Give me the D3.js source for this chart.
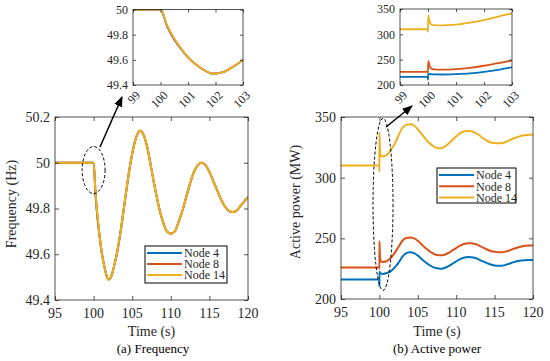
<!DOCTYPE html>
<html>
<head>
<meta charset="utf-8">
<script src="https://cdn.jsdelivr.net/npm/d3@7"></script>
<style>
    body { margin: 0; background: #fff; }
    svg text { font-family: "Liberation Serif", "DejaVu Serif", serif; }
</style>
</head>
<body>
<svg id="canvas" width="550" height="361"></svg>
<script>
/** Series names and colours */
const nodeNames = ['Node 4', 'Node 8', 'Node 14'];
const nodeColors = ['#0072BD', '#D95319', '#EDB120'];

/** Frequency (Hz) */
const freqTime = [95, 99, 100, 100.25, 100.5, 100.75, 101, 101.25, 101.5, 101.9, 102.25, 102.6, 103,
    103.5, 104, 104.5, 105, 105.5, 106, 106.5, 107, 107.5, 108, 108.5, 109, 109.5, 110, 110.5, 111, 111.5,
    112, 112.5, 113, 113.5, 114, 114.5, 115, 115.5, 116, 116.5, 117, 117.5, 118, 118.5, 119, 119.5, 120];
const freqNode4 = [50, 50, 50, 49.86, 49.76, 49.685, 49.62, 49.57, 49.53, 49.49, 49.50, 49.54, 49.60,
    49.70, 49.82, 49.94, 50.04, 50.11, 50.14, 50.12, 50.06, 49.97, 49.88, 49.80, 49.74, 49.70, 49.69, 49.70, 49.74, 49.79,
    49.85, 49.91, 49.96, 49.99, 50.00, 49.99, 49.96, 49.92, 49.88, 49.84, 49.81, 49.79, 49.785, 49.79, 49.81, 49.83, 49.85];
const freqNode8 = [50, 50, 50, 49.865, 49.765, 49.688, 49.62, 49.57, 49.53, 49.49, 49.50, 49.54, 49.60,
    49.70, 49.82, 49.94, 50.04, 50.11, 50.14, 50.12, 50.06, 49.97, 49.88, 49.80, 49.74, 49.70, 49.69, 49.70, 49.74, 49.79,
    49.85, 49.91, 49.96, 49.99, 50.00, 49.99, 49.96, 49.92, 49.88, 49.84, 49.81, 49.79, 49.785, 49.79, 49.81, 49.83, 49.85];
const freqNode14 = [50, 50, 50, 49.87, 49.77, 49.69, 49.62, 49.57, 49.53, 49.49, 49.50, 49.54, 49.60,
    49.70, 49.82, 49.94, 50.04, 50.11, 50.14, 50.12, 50.06, 49.97, 49.88, 49.80, 49.74, 49.70, 49.69, 49.70, 49.74, 49.79,
    49.85, 49.91, 49.96, 49.99, 50.00, 49.99, 49.96, 49.92, 49.88, 49.84, 49.81, 49.79, 49.785, 49.79, 49.81, 49.83, 49.85];

/** Active power (MW) */
const powerTime = [95, 99.99, 100, 100.01, 100.06, 100.12, 100.2, 100.5, 101, 101.5, 102, 102.5, 103,
    103.5, 104, 104.5, 105, 105.5, 106, 106.5, 107, 107.5, 108, 108.5, 109, 109.5, 110, 110.5, 111, 111.5,
    112, 112.5, 113, 113.5, 114, 114.5, 115, 115.5, 116, 116.5, 117, 117.5, 118, 118.5, 119, 119.5, 120];
const powerNode4 = [216, 216, 210.5, 222.5, 221.5, 221.2, 221, 220.7, 221.5, 223, 226, 230, 235,
    237.8, 238.5, 237.8, 235.8, 233, 230.3, 228, 226.3, 225.3, 225, 225.5, 227, 229, 231, 232.8, 234, 234.6,
    234.5, 233.8, 232.5, 231, 229.6, 228.4, 227.7, 227.4, 227.5, 228.2, 229.3, 230.4, 231.3, 231.8, 232, 232.1, 232.2];
const powerNode8 = [226, 226, 225, 247.5, 237, 232.5, 231, 230.5, 231.5, 234, 238, 243, 248,
    250.2, 250.6, 250, 248, 245, 242, 239.5, 237.5, 236.3, 236, 236.5, 238, 240, 242, 244, 245.3, 246,
    246, 245.3, 244, 242.3, 240.8, 239.6, 238.9, 238.6, 238.6, 239.2, 240.2, 241.4, 242.5, 243.3, 243.8, 244, 244];
const powerNode14 = [310, 310, 305, 337, 325, 319.5, 318, 317.5, 319, 323, 328, 335, 341,
    343.5, 344, 343, 340, 336, 332, 328.5, 326, 324.5, 324.3, 325.5, 328, 331, 334, 336.5, 338, 338.5,
    338.2, 337, 335, 332.5, 330.5, 329, 328.5, 328.3, 328.5, 329.5, 331, 332.5, 333.5, 334.5, 335, 335.3, 335.5];

/** Tick values */
const mainTimeTicks = [95, 100, 105, 110, 115, 120];
const zoomTimeTicks = [99, 100, 101, 102, 103];
const freqTicks = [49.4, 49.6, 49.8, 50, 50.2];
const freqZoomTicks = [49.4, 49.6, 49.8, 50];
const powerTicks = [200, 250, 300, 350];

const canvas = d3.select('#canvas');
const axisColor = '#262626';
let clipCount = 0;

/** Arrow head marker */
canvas.append('defs')
    .append('marker')
    .attr('id', 'arrow')
    .attr('viewBox', '0 0 10 10')
    .attr('refX', 9).attr('refY', 5)
    .attr('markerWidth', 7).attr('markerHeight', 7)
    .attr('orient', 'auto')
    .append('path')
    .attr('d', 'M0,1 L10,5 L0,9 z')
    .attr('fill', '#000');

/** Draw one MATLAB-like box axes with lines */
const drawAxes = (cfg) => {
    const x = d3.scaleLinear().domain(cfg.xDomain).range([cfg.left, cfg.right]);
    const y = d3.scaleLinear().domain(cfg.yDomain).range([cfg.bottom, cfg.top]);
    const g = canvas.append('g');
    const fmt = (d) => String(+d.toFixed(1));

    /** Clip area */
    const clipId = 'clip' + (clipCount++);
    canvas.select('defs').append('clipPath').attr('id', clipId)
        .append('rect')
        .attr('x', cfg.left).attr('y', cfg.top)
        .attr('width', cfg.right - cfg.left).attr('height', cfg.bottom - cfg.top);

    /** Lines */
    const line = d3.line()
        .x((d) => x(d[0]))
        .y((d) => y(d[1]))
        .curve(d3.curveMonotoneX);

    g.append('g').attr('clip-path', `url(#${clipId})`)
        .selectAll('path')
        .data(cfg.series)
        .enter()
        .append('path')
        .attr('d', (s) => line(cfg.time.map((t, i) => [t, s[i]])))
        .attr('fill', 'none')
        .attr('stroke', (s, i) => nodeColors[i])
        .attr('stroke-width', cfg.lineWidth);

    /** Inward ticks on all four sides */
    const tl = cfg.tickLen;
    const xAxisBottom = d3.axisBottom(x).tickValues(cfg.xTicks).tickSize(-tl).tickFormat('');
    const xAxisTop = d3.axisTop(x).tickValues(cfg.xTicks).tickSize(-tl).tickFormat('');
    const yAxisLeft = d3.axisLeft(y).tickValues(cfg.yTicks).tickSize(-tl).tickFormat('');
    const yAxisRight = d3.axisRight(y).tickValues(cfg.yTicks).tickSize(-tl).tickFormat('');

    g.append('g').attr('transform', `translate(0,${cfg.bottom})`).call(xAxisBottom);
    g.append('g').attr('transform', `translate(0,${cfg.top})`).call(xAxisTop);
    g.append('g').attr('transform', `translate(${cfg.left},0)`).call(yAxisLeft);
    g.append('g').attr('transform', `translate(${cfg.right},0)`).call(yAxisRight);
    g.selectAll('.domain').remove();
    g.selectAll('.tick line').attr('stroke', axisColor).attr('stroke-width', 0.8);

    /** Box */
    g.append('rect')
        .attr('x', cfg.left).attr('y', cfg.top)
        .attr('width', cfg.right - cfg.left).attr('height', cfg.bottom - cfg.top)
        .attr('fill', 'none')
        .attr('stroke', axisColor)
        .attr('stroke-width', 0.8);

    /** Y tick labels */
    g.selectAll('.ylab')
        .data(cfg.yTicks)
        .enter()
        .append('text')
        .attr('x', cfg.left - 5)
        .attr('y', (d) => y(d))
        .attr('dy', '0.35em')
        .attr('text-anchor', 'end')
        .attr('font-size', cfg.fontSize)
        .attr('fill', axisColor)
        .text(fmt);

    /** X tick labels */
    if (cfg.rotateX) {
        g.selectAll('.xlab')
            .data(cfg.xTicks)
            .enter()
            .append('text')
            .attr('transform', (d) => `translate(${x(d) + 5},${cfg.bottom + 8}) rotate(-45)`)
            .attr('dy', '0.35em')
            .attr('text-anchor', 'end')
            .attr('font-size', cfg.fontSize)
            .attr('fill', axisColor)
            .text(fmt);
    } else {
        g.selectAll('.xlab')
            .data(cfg.xTicks)
            .enter()
            .append('text')
            .attr('x', (d) => x(d))
            .attr('y', cfg.bottom + 18)
            .attr('text-anchor', 'middle')
            .attr('font-size', cfg.fontSize)
            .attr('fill', axisColor)
            .text(fmt);
    }

    return { x, y, g };
};

/** Legend box */
const drawLegend = (lx, ly, w, h, rowGap) => {
    const lg = canvas.append('g');
    lg.append('rect')
        .attr('x', lx).attr('y', ly).attr('width', w).attr('height', h)
        .attr('fill', '#fff').attr('stroke', '#000').attr('stroke-width', 1);
    nodeNames.forEach((name, i) => {
        const ry = ly + 7 + i * rowGap;
        lg.append('line')
            .attr('x1', lx + 2).attr('x2', lx + 37)
            .attr('y1', ry).attr('y2', ry)
            .attr('stroke', nodeColors[i]).attr('stroke-width', 2);
        lg.append('text')
            .attr('x', lx + 39).attr('y', ry).attr('dy', '0.35em')
            .attr('font-size', 12).attr('fill', axisColor)
            .text(name);
    });
};

/** Dashed ellipse and arrow */
const drawCallout = (cx, cy, rx, ry, x1, y1, x2, y2) => {
    canvas.append('ellipse')
        .attr('cx', cx).attr('cy', cy).attr('rx', rx).attr('ry', ry)
        .attr('fill', 'none').attr('stroke', '#000')
        .attr('stroke-width', 1).attr('stroke-dasharray', '3,2');
    canvas.append('line')
        .attr('x1', x1).attr('y1', y1).attr('x2', x2).attr('y2', y2)
        .attr('stroke', '#000').attr('stroke-width', 1.5)
        .attr('marker-end', 'url(#arrow)');
};

/** (a) Frequency */
const freqMain = drawAxes({
    left: 55, right: 248, top: 117, bottom: 300,
    xDomain: [95, 120], yDomain: [49.4, 50.2],
    xTicks: mainTimeTicks, yTicks: freqTicks,
    time: freqTime, series: [freqNode4, freqNode8, freqNode14],
    lineWidth: 2, tickLen: 4, fontSize: 14
});
drawAxes({
    left: 133, right: 243, top: 9.5, bottom: 85,
    xDomain: [99, 103], yDomain: [49.4, 50],
    xTicks: zoomTimeTicks, yTicks: freqZoomTicks,
    time: freqTime, series: [freqNode4, freqNode8, freqNode14],
    lineWidth: 1.8, tickLen: 3, fontSize: 12, rotateX: true
});
drawLegend(145, 246, 82, 37, 11);
drawCallout(freqMain.x(100), freqMain.y(49.968), 11.5, 23.5, 100, 147, 122, 97);

canvas.append('text').attr('x', 151.5).attr('y', 336).attr('text-anchor', 'middle')
    .attr('font-size', 14).attr('fill', axisColor).text('Time (s)');
canvas.append('text').attr('x', 153).attr('y', 353).attr('text-anchor', 'middle')
    .attr('font-size', 13).attr('fill', '#000').text('(a) Frequency');
canvas.append('text').attr('transform', 'translate(16,204) rotate(-90)').attr('text-anchor', 'middle')
    .attr('font-size', 14).attr('fill', axisColor).text('Frequency (Hz)');

/** (b) Active power */
const powerMain = drawAxes({
    left: 341, right: 533, top: 117, bottom: 299,
    xDomain: [95, 120], yDomain: [200, 350],
    xTicks: mainTimeTicks, yTicks: powerTicks,
    time: powerTime, series: [powerNode4, powerNode8, powerNode14],
    lineWidth: 2, tickLen: 4, fontSize: 14
});
drawAxes({
    left: 400, right: 512, top: 9, bottom: 85,
    xDomain: [99, 103], yDomain: [200, 350],
    xTicks: zoomTimeTicks, yTicks: powerTicks,
    time: powerTime, series: [powerNode4, powerNode8, powerNode14],
    lineWidth: 1.8, tickLen: 3, fontSize: 12, rotateX: true
});
drawLegend(437, 168, 79, 35, 11.3);
drawCallout(powerMain.x(100.47), powerMain.y(278), 10, 86, 386, 127, 412, 106);

canvas.append('text').attr('x', 437).attr('y', 336).attr('text-anchor', 'middle')
    .attr('font-size', 14).attr('fill', axisColor).text('Time (s)');
canvas.append('text').attr('x', 437).attr('y', 353).attr('text-anchor', 'middle')
    .attr('font-size', 13).attr('fill', '#000').text('(b) Active power');
canvas.append('text').attr('transform', 'translate(300,202) rotate(-90)').attr('text-anchor', 'middle')
    .attr('font-size', 14).attr('fill', axisColor).text('Active power (MW)');
</script>
</body>
</html>
